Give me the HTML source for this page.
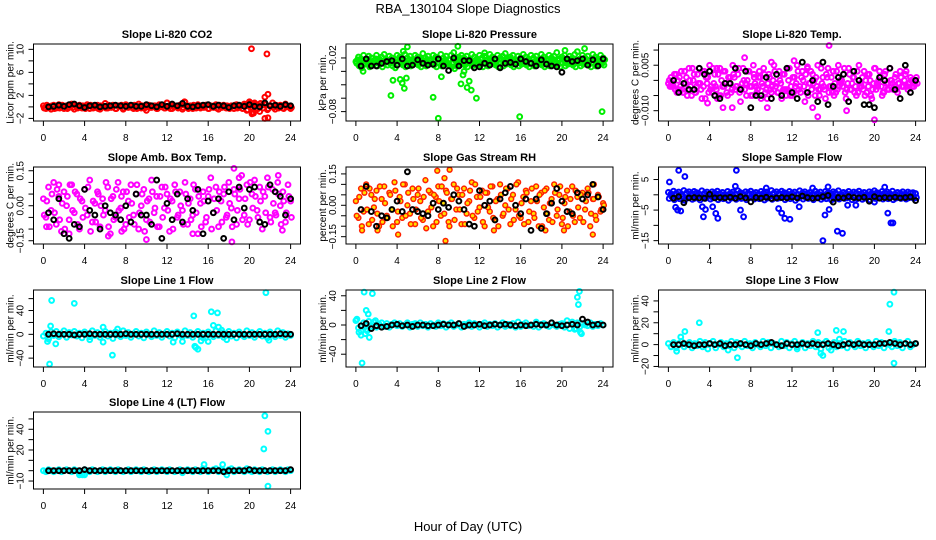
<!DOCTYPE html>
<html><head><meta charset="utf-8"><style>
html,body{margin:0;padding:0;background:#fff;}
svg{display:block;font-family:"Liberation Sans",Arial,sans-serif;}
</style></head><body>
<svg id="fig" width="936" height="540" viewBox="0 0 936 540" xmlns="http://www.w3.org/2000/svg">
<rect x="0" y="0" width="936" height="540" fill="#fff"/>
<text x="468" y="13" font-size="13" text-anchor="middle">RBA_130104  Slope Diagnostics</text>
<text x="468" y="531" font-size="13" text-anchor="middle">Hour of Day (UTC)</text>
</svg>
<script>
// ---- data ----
const hourTicks = [0,4,8,12,16,20,24];

const co2Red = [0.2,-0.3,0.1,-0.4,0.3,-0.2,0.4,0,-0.3,0.2,-0.1,0.5,-0.4,0.1,0.3,-0.2,0,0.4,-0.3,0.2,-0.1,0.3,-0.4,0.1,0.6,-0.2,0,0.3,-0.3,0.2,0.1,-0.4,0.4,-0.1,0.2,-0.3,0,0.5,-0.2,0.1,-0.6,0.3,-0.1,0.2,-0.3,0.4,0,-0.2,0.7,0.1,-0.3,0.2,0,0.3,-0.4,0.8,-0.1,0.2,-0.3,0.1,0.4,-0.2,0,0.3,-0.3,0.2,-0.1,0.4,-0.4,0.1,0.3,-0.2,0,0.2,-0.3,0.4,-0.1,0.2,0.5,-0.6,0.9,-1.2,0.7,0.4,-0.8,0.3,0.6,-0.5,0.2,0.7,-0.4,0.1,0.3,-0.2,0.5,0,-0.3];
const co2RedB = [-0.2,0.3,-0.1,0.2,-0.3,0.1,-0.2,0.3,0.1,-0.3,0.2,-0.1,0.3,-0.2,0,0.2,-0.3,0.1,0.3,-0.2,0.1,-0.3,0.2,0,-0.2,0.3,-0.1,0.2,-0.3,0.1,0.3,-0.2,0,0.2,-0.1,0.3,-0.3,0.1,0.2,-0.2,0.3,-0.1,0,0.2,-0.3,0.1,0.3,-0.2,0.1,-0.3,0.2,0,-0.2,0.3,-0.1,0.2,-0.3,0.1,0.3,-0.2,0,0.2,-0.1,0.3,-0.3,0.1,0.2,-0.2,0.3,-0.1,0,0.2,-0.3,0.1,0.3,-0.2,0.1,-0.3,0.4,-0.5,0.6,-0.4,0.5,-0.3,0.6,-0.2,0.4,-0.3,0.2,-0.1,0.3,-0.2,0.1,-0.3,0.2,0,-0.1];
const co2RedOutHours = [20.2,21.7,21.8,21.5,21.5,21.8,20.4,20,13.7,12,20.3];
const co2RedOutVals = [10.1,9.2,2.2,1.7,-2,-1.9,-1.1,0.8,0.9,0.7,-0.9];
const co2Black = [0,0.1,0.3,0.1,0.4,0.5,0.2,-0.1,0.2,0.3,0,0.1,0.2,0.3,0.2,0.1,0.3,0.1,0.1,0.4,0.2,0,0.4,0.1,0.5,0.2,0.6,0.1,0,0.2,0.3,0.4,0.1,0.3,0.2,-0.1,0.2,0.3,0.1,0.4,0.1,0,0.7,0.2,0.3,0.1,0.4,0.2];

const presA = [-0.024,-0.019,-0.021,-0.017,-0.022,-0.018,-0.02,-0.023,-0.017,-0.021,-0.019,-0.016,-0.022,-0.018,-0.02,-0.024,-0.017,-0.019,-0.021,-0.016,-0.02,-0.018,-0.022,-0.017,-0.019,-0.021,-0.015,-0.02,-0.018,-0.023,-0.017,-0.019,-0.021,-0.016,-0.02,-0.018,-0.022,-0.017,-0.014,-0.021,-0.019,-0.017,-0.02,-0.018,-0.022,-0.016,-0.019,-0.021,-0.017,-0.02,-0.018,-0.022,-0.016,-0.019,-0.021,-0.017,-0.02,-0.018,-0.015,-0.021,-0.019,-0.017,-0.022,-0.018,-0.02,-0.016,-0.019,-0.021,-0.017,-0.02,-0.018,-0.022,-0.016,-0.019,-0.021,-0.017,-0.02,-0.018,-0.014,-0.021,-0.019,-0.017,-0.022,-0.018,-0.02,-0.016,-0.013,-0.021,-0.017,-0.02,-0.018,-0.022,-0.016,-0.019,-0.021,-0.017,-0.02];
const presB = [-0.026,-0.029,-0.031,-0.027,-0.025,-0.03,-0.028,-0.026,-0.029,-0.027,-0.03,-0.025,-0.028,-0.026,-0.029,-0.031,-0.027,-0.025,-0.028,-0.03,-0.026,-0.029,-0.027,-0.025,-0.028,-0.03,-0.026,-0.029,-0.027,-0.025,-0.028,-0.03,-0.026,-0.029,-0.027,-0.025,-0.028,-0.03,-0.032,-0.029,-0.027,-0.025,-0.028,-0.03,-0.026,-0.029,-0.027,-0.025,-0.028,-0.03,-0.026,-0.029,-0.027,-0.025,-0.028,-0.03,-0.026,-0.029,-0.027,-0.025,-0.028,-0.03,-0.026,-0.029,-0.027,-0.025,-0.028,-0.03,-0.026,-0.029,-0.027,-0.025,-0.028,-0.03,-0.026,-0.029,-0.027,-0.025,-0.028,-0.03,-0.026,-0.029,-0.027,-0.025,-0.028,-0.03,-0.026,-0.029,-0.027,-0.025,-0.028,-0.03,-0.026,-0.029,-0.027,-0.025,-0.028];
const presC = [-0.022,-0.025,-0.023,-0.026,-0.022,-0.024,-0.025,-0.021,-0.024,-0.023,-0.026,-0.022,-0.024,-0.023,-0.025,-0.022,-0.024,-0.026,-0.023,-0.025,-0.022,-0.024,-0.023,-0.026,-0.022,-0.025,-0.023,-0.024,-0.022,-0.026,-0.023,-0.025,-0.022,-0.024,-0.023,-0.026,-0.022,-0.025,-0.023,-0.024,-0.022,-0.026,-0.023,-0.025,-0.022,-0.024,-0.023,-0.026,-0.022,-0.025,-0.023,-0.024,-0.022,-0.026,-0.023,-0.025,-0.022,-0.024,-0.023,-0.026,-0.022,-0.025,-0.023,-0.024,-0.022,-0.026,-0.023,-0.025,-0.022,-0.024,-0.023,-0.026,-0.022,-0.025,-0.023,-0.024,-0.022,-0.026,-0.023,-0.025,-0.022,-0.024,-0.023,-0.026,-0.022,-0.025,-0.023,-0.024,-0.022,-0.026,-0.023,-0.025,-0.022,-0.024,-0.023,-0.026,-0.022];
const presOutHours = [3.4,3.6,4.3,4.5,4.7,4.9,7.5,8,8.3,10.2,10.4,10.8,11,11.2,11.7,15.9,23.9,5,9.9,20.3,22.2,4.6,0.7,10.5,12.5];
const presOutVals = [-0.062,-0.045,-0.044,-0.048,-0.054,-0.0425,-0.064,-0.0875,-0.041,-0.049,-0.039,-0.053,-0.046,-0.056,-0.065,-0.0857,-0.08,-0.0076,-0.007,-0.0115,-0.0095,-0.0126,-0.035,-0.035,-0.0144];
const presBlack = [-0.029,-0.021,-0.029,-0.029,-0.026,-0.024,-0.023,-0.028,-0.021,-0.029,-0.028,-0.022,-0.026,-0.028,-0.027,-0.021,-0.029,-0.034,-0.02,-0.029,-0.023,-0.023,-0.031,-0.03,-0.026,-0.028,-0.021,-0.031,-0.026,-0.025,-0.027,-0.021,-0.024,-0.026,-0.029,-0.022,-0.027,-0.029,-0.03,-0.036,-0.021,-0.024,-0.023,-0.021,-0.028,-0.022,-0.029,-0.021];

const tempA = [-0.001,0.001,-0.002,0.002,-0.003,0.003,-0.004,0.001,0.004,-0.005,0.002,-0.002,0.004,-0.006,0.003,-0.001,0.005,-0.004,0.002,-0.006,0.004,-0.002,0.003,-0.005,0.001,0.005,-0.003,0.002,-0.007,0.004,-0.001,0.003,-0.005,0.005,-0.002,0.001,-0.006,0.004,-0.003,0.002,-0.004,0.005,-0.001,0.003,-0.006,0.002,-0.003,0.004,-0.005,0.001,0.005,-0.002,0.003,-0.007,0.004,-0.001,0.002,-0.005,0.005,-0.003,0.001,-0.006,0.004,-0.002,0.003,-0.004,0.005,-0.001,0.002,-0.006,0.004,-0.003,0.001,-0.005,0.005,-0.002,0.003,-0.004,0.002,-0.006,0.004,-0.001,0.003,-0.005,0.002,-0.003,0.004,-0.001,0.001,-0.004,0.003,-0.002,0.002,-0.003,0.001,-0.001,0.0];
const tempB = [0.0,-0.002,0.002,-0.004,0.001,-0.003,0.003,-0.005,0.0,0.004,-0.004,0.002,-0.001,0.003,-0.006,0.001,-0.003,0.004,-0.002,0.002,-0.005,0.003,-0.001,0.001,-0.004,0.002,-0.002,0.004,-0.003,0.0,-0.005,0.003,-0.002,0.001,-0.004,0.003,-0.001,0.002,-0.006,0.001,-0.002,0.003,-0.004,0.0,0.002,-0.003,0.004,-0.005,0.001,-0.002,0.003,-0.004,0.0,0.002,-0.005,0.003,-0.001,0.001,-0.003,0.004,-0.002,0.002,-0.004,0.001,-0.005,0.003,-0.002,0.0,0.004,-0.003,0.002,-0.001,-0.004,0.003,-0.002,0.001,-0.005,0.002,0.0,-0.003,0.004,-0.002,0.001,-0.004,0.003,-0.001,0.0,-0.003,0.002,-0.001,0.001,-0.002,0.003,-0.001,0.0,-0.002,0.001];
const tempC = [-0.002,-0.001,-0.003,0.0,-0.002,-0.004,-0.001,-0.003,-0.002,0.0,-0.004,-0.001,-0.003,-0.002,0.001,-0.004,-0.002,-0.001,-0.003,-0.005,0.0,-0.002,-0.004,-0.001,-0.003,0.001,-0.002,-0.004,-0.001,-0.003,0.0,-0.002,-0.005,-0.001,-0.003,0.001,-0.002,-0.004,-0.001,-0.003,0.0,-0.002,-0.004,-0.001,-0.003,-0.005,0.0,-0.002,-0.004,-0.001,-0.003,0.001,-0.002,-0.004,-0.001,-0.003,0.0,-0.002,-0.005,-0.001,-0.003,0.001,-0.002,-0.004,-0.001,-0.003,0.0,-0.002,-0.004,-0.001,-0.003,0.001,-0.002,-0.004,-0.001,-0.003,0.0,-0.002,-0.005,-0.001,-0.003,0.0,-0.002,-0.004,-0.001,-0.003,0.0,-0.002,-0.003,-0.001,-0.002,0.0,-0.002,-0.001,-0.002,-0.001,-0.001];
const tempOutHours = [15.6,7.4,10,12.2,21.5,14.5,20,5.3,6.2,9.6,17.3,14,3.8,4.7,8.3,13.5];
const tempOutVals = [0.0115,0.0075,0.006,0.0065,0.004,-0.012,-0.013,-0.009,-0.009,-0.009,-0.01,-0.009,-0.0075,0.004,0.002,0.0045];
const tempBlack = [0.0,-0.004,-0.001,-0.003,-0.003,0.004,0.002,0.003,-0.005,-0.006,-0.001,-0.001,0.004,-0.003,0.003,-0.009,-0.005,-0.005,0.001,-0.006,0.002,-0.005,0.004,-0.004,-0.006,0.006,-0.004,0.0,-0.007,0.006,-0.008,-0.002,0.001,0.002,-0.007,0.003,0.0,-0.008,-0.008,-0.009,0.001,0.0,0.004,-0.003,-0.006,0.005,-0.004,0.0];

const ambA = [0.03,-0.05,0.08,-0.02,0.1,-0.08,0.04,-0.11,0.06,0.0,-0.06,0.09,-0.03,0.05,-0.1,0.02,0.07,-0.04,0.11,-0.07,0.01,0.06,-0.09,0.03,-0.02,0.08,-0.12,0.04,-0.05,0.1,-0.01,0.06,-0.08,0.02,0.09,-0.04,0.05,-0.1,0.0,0.07,-0.06,0.03,0.11,-0.03,0.04,-0.09,0.08,-0.01,0.05,-0.11,0.02,0.09,-0.05,0.06,-0.02,0.1,-0.08,0.03,-0.04,0.07,-0.12,0.01,0.06,-0.07,0.04,0.12,-0.03,0.08,-0.09,0.02,0.05,-0.05,0.1,-0.01,0.07,-0.08,0.03,0.13,-0.04,0.09,-0.06,0.05,0.11,-0.02,0.08,-0.1,0.04,0.12,-0.05,0.07,-0.03,0.1,0.0,0.06,-0.07,0.09,0.02];
const ambB = [-0.04,0.02,-0.09,0.05,-0.03,0.07,-0.06,0.01,-0.1,0.04,0.09,-0.02,0.06,-0.08,0.03,-0.05,-0.01,0.08,-0.11,0.02,-0.07,0.05,0.0,-0.04,0.1,-0.09,0.03,-0.06,0.07,-0.02,0.04,-0.1,0.06,-0.05,0.01,-0.08,0.09,-0.03,0.05,-0.11,0.02,-0.07,0.06,-0.01,-0.09,0.04,-0.05,0.08,-0.02,0.03,-0.1,0.06,-0.04,0.0,-0.08,0.05,0.01,-0.06,0.09,-0.03,0.04,-0.09,0.02,-0.05,0.07,-0.1,0.03,-0.02,0.06,-0.07,0.08,-0.04,0.01,-0.09,0.05,-0.02,0.07,-0.06,0.03,-0.08,0.1,-0.01,0.04,-0.05,0.02,0.06,-0.03,0.08,-0.07,0.01,-0.04,0.05,-0.08,0.02,-0.03,0.04,-0.05];
const ambOutHours = [18.5,18.3,10,19,22.8,23.2,2.5,1.5,6.3,14.5,0.3,7.6];
const ambOutVals = [0.16,-0.155,-0.145,0.12,0.13,-0.105,-0.12,0.09,-0.13,-0.12,-0.09,-0.11];
const ambBlack = [-0.03,-0.06,0.03,-0.12,-0.14,-0.08,-0.09,0.07,-0.02,-0.04,-0.1,0.0,-0.03,-0.04,-0.06,0.0,-0.07,0.05,-0.04,-0.04,-0.08,0.11,-0.14,0.01,-0.06,0.05,-0.07,0.03,-0.02,0.07,-0.12,0.02,-0.03,0.03,-0.14,0.06,-0.06,0.08,-0.01,0.07,0.08,-0.07,-0.08,0.09,0.06,0.04,-0.04,0.03];

const rhA = [0.02,-0.06,0.08,-0.03,0.1,-0.09,0.05,-0.01,0.07,-0.1,0.03,0.09,-0.05,0.06,-0.02,0.11,-0.08,0.04,-0.06,0.1,0.0,-0.04,0.08,-0.09,0.05,0.02,-0.07,0.12,-0.03,0.06,-0.1,0.04,0.09,-0.05,0.01,0.07,-0.08,0.03,0.1,-0.02,0.05,-0.09,0.08,-0.04,0.02,0.11,-0.06,0.04,-0.01,0.07,-0.1,0.06,-0.03,0.09,-0.07,0.03,0.1,-0.05,0.0,0.08,-0.09,0.05,-0.02,0.11,-0.06,0.04,0.07,-0.08,0.02,-0.04,0.09,-0.1,0.06,-0.01,0.08,-0.07,0.03,0.1,-0.05,0.05,-0.09,0.01,0.07,-0.03,0.09,-0.08,0.04,-0.06,0.06,-0.02,0.08,-0.1,0.03,-0.05,0.05,-0.03,0.01];
const rhB = [-0.05,0.04,-0.1,0.06,-0.02,0.08,-0.07,0.03,-0.04,0.09,-0.08,0.01,-0.06,0.05,-0.1,0.07,-0.03,0.02,0.1,-0.05,0.06,-0.09,0.03,-0.02,0.08,-0.06,0.04,-0.11,0.07,-0.01,0.05,-0.08,0.02,0.09,-0.04,0.06,-0.1,0.03,-0.07,0.08,-0.02,0.05,-0.09,0.01,0.07,-0.05,0.1,-0.03,0.04,-0.08,0.06,-0.01,0.09,-0.06,0.02,-0.1,0.05,-0.04,0.08,-0.02,0.03,-0.07,0.1,-0.05,0.01,-0.09,0.06,-0.03,0.08,-0.06,0.02,0.05,-0.1,0.07,-0.04,0.01,-0.08,0.06,-0.02,0.09,-0.06,0.04,-0.1,0.03,-0.05,0.07,-0.01,0.05,-0.08,0.02,0.06,-0.04,0.03,-0.07,0.04,-0.02,0.0];
const rhOutHours = [8.7,9.1,7.9,4.1,13.4,18.4,20.2,23,8.6,23.1,2.1,0.6];
const rhOutVals = [-0.17,0.17,0.165,-0.14,-0.12,-0.12,-0.12,-0.14,0.13,0.1,-0.12,-0.12];
const rhBlack = [-0.02,0.09,-0.03,-0.1,-0.05,-0.06,-0.02,0.02,-0.03,0.16,-0.02,-0.03,-0.04,-0.05,0.01,-0.02,0.01,-0.01,0.05,0.02,-0.02,-0.09,-0.1,0.07,0.0,0.02,-0.07,0.03,0.06,0.09,0.0,-0.04,0.03,-0.12,0.03,-0.11,-0.04,0.01,0.08,0.02,-0.03,-0.04,0.06,0.03,0.05,0.1,0.04,-0.02];

const flowA = [0.8,0.3,1.2,0.5,0.9,0.2,1.4,0.6,1.0,0.4,1.1,0.7,0.2,1.3,0.5,0.9,0.3,1.0,0.6,1.2,0.4,0.8,0.1,1.1,0.5,0.9,0.3,1.3,0.7,0.2,1.0,0.6,1.2,0.4,0.8,0.3,1.1,0.5,0.9,0.2,1.4,0.6,1.0,0.4,1.2,0.7,0.3,1.1,0.5,0.9,0.2,1.3,0.6,1.0,0.4,0.8,0.3,1.2,0.5,0.9,0.1,1.1,0.7,0.4,1.0,0.6,1.3,0.2,0.8,0.5,1.1,0.3,0.9,0.6,1.2,0.4,0.8,0.2,1.0,0.5,1.3,0.7,0.3,1.1,0.6,0.9,0.4,1.2,0.2,0.8,0.5,1.0,0.3,0.9,0.6,0.7,0.4];
const flowB = [-1.2,-0.6,-1.6,-0.9,-1.3,-0.5,-1.8,-1.0,-0.7,-1.5,-1.1,-0.4,-1.7,-0.8,-1.2,-0.6,-1.4,-1.0,-0.5,-1.6,-0.9,-1.3,-0.7,-1.8,-1.1,-0.6,-1.5,-0.8,-1.2,-0.4,-1.6,-1.0,-0.7,-1.4,-0.9,-1.3,-0.5,-1.7,-1.1,-0.6,-1.5,-0.8,-1.2,-1.0,-0.4,-1.6,-0.9,-1.3,-0.7,-1.8,-1.1,-0.6,-1.4,-0.8,-1.2,-0.5,-1.6,-1.0,-0.7,-1.5,-0.9,-1.3,-0.6,-1.7,-1.1,-0.8,-1.4,-0.5,-1.2,-1.0,-0.7,-1.6,-0.9,-1.3,-0.6,-1.5,-1.1,-0.8,-1.7,-0.5,-1.2,-1.0,-0.7,-1.4,-0.9,-1.3,-0.6,-1.6,-1.1,-0.8,-1.2,-0.5,-1.4,-1.0,-0.7,-1.2,-0.9];
const flowOutHours = [0.1,1,1.6,6.6,0.9,1.2,0.7,3.4,3.6,4.6,4.8,4.3,7.3,7,10.7,11,11.3,11.8,15,15.2,15.6,16.4,16.9,21.3,21.6,21.8,6.5,9.5,15.5,14,21,12.7,18.2,17.4,20,3.3];
const flowOutVals = [4.2,8,6,8,-5,-5.3,-4.1,-7.2,-4.8,-6.1,-7.7,-3.9,-7.2,-5,-4.5,-6,-7.7,-8,-15,-6.6,-4.8,-11.9,-12.6,-6,-9.2,-9.2,2.8,2.2,2.6,2.2,2.5,-3.9,-3.4,-3.4,-2.4,-3.9];
const flowBlack = [-1.1,-0.6,-2.6,-1.0,-0.9,-1.0,-1.1,0.2,-1.0,-0.9,-1.0,-0.8,-1.1,-0.6,-1.0,-2.3,-0.9,-1.1,-0.8,-1.2,-1.0,-0.9,-1.0,-0.7,-1.0,-0.4,-0.9,-1.1,-1.0,-0.6,-0.2,-2.4,-0.9,-1.0,-0.6,-0.9,-1.0,-0.8,-2.1,-0.6,-1.1,-0.9,-1.0,-0.8,-1.0,-0.9,-0.7,-1.9];

const line1Cyan = [-3,2,-6,4,-2,5,-4,1,6,-5,3,-1,5,-3,2,-6,4,0,-4,6,-2,3,-5,1,5,-3,2,-7,4,-1,-4,6,-2,3,-5,1,5,-3,2,-6,4,0,-4,6,-2,3,-5,1,5,-3,2,-6,4,-1,-4,6,-2,3,-5,1,5,-3,2,-6,4,0,-4,6,-2,3,-5,1,5,-3,2,-6,4,-1,-4,6,-2,3,-5,1,5,-3,2,-6,4,0,-4,6,-2,3,-5,1,-2];
const line1OutHours = [0.6,0.8,0.7,1.2,0.4,0.5,3,6.7,5.8,5.8,14.6,14.7,14.8,15,15.3,15.5,16.3,16.5,16.9,17,17.3,16,21.6,21.9,12.6,13.5,4.5,7.2,17.8];
const line1OutVals = [-50,57,14,-16,-12,-8,52,-35,-13,12,31,-20,-22,-25,-11,-6,38,15,36,12,7,-12,70,-10,-13,-12,-9,9,-9];
const line1Black = [0,1,0,0,0,-1,0,0,1,0,0,0,0,0,0,1,0,0,0,0,0,0,0,0,0,1,0,0,0,0,0,0,0,0,0,0,0,0,0,0,0,0,0,0,0,1,0,0];

const line2Cyan = [6,-4,-8,3,-6,5,-2,4,-3,1,3,-2,2,-3,1,3,-1,2,-2,0,3,-3,1,2,-2,3,-1,1,-3,2,0,-2,3,-1,2,-3,1,3,-2,0,2,-3,1,-1,3,-2,2,0,-3,1,3,-2,1,-1,2,-3,0,3,-2,1,-1,2,-3,4,-2,1,3,-1,0,-2,3,-3,1,2,-1,-2,3,0,-2,1,2,-3,6,-5,4,-6,3,-2,2,0,-1,3,-2,1,-1,2,0];
const line2OutHours = [0.1,0.3,0.5,0.6,0.8,1,1.2,1.3,1.6,0.9,1.1,1.9,21.5,21.7,21.6,21.8,21.9,21.4,17.5];
const line2OutVals = [8,-10,-14,-52,45,20,15,-17,43,-12,-8,6,38,46,28,-10,-12,-5,4];
const line2Black = [-1,2,-5,-1,-3,-2,0,1,-1,0,-2,0,0,-1,-1,0,1,0,0,2,-2,0,0,1,-1,0,1,0,1,0,-1,0,-1,0,1,0,0,3,0,-1,0,1,0,8,4,0,1,0];

const line3Cyan = [1,-2,2,-3,1,3,-2,0,2,-3,1,-1,3,-2,2,-4,1,3,-3,0,2,-2,1,-1,3,-3,2,0,-2,3,-1,1,-3,2,0,-2,3,-1,2,-3,1,0,-2,3,-1,2,-3,1,3,-2,0,2,-3,1,-1,3,-2,2,-4,1,3,-3,0,2,-2,1,-1,3,-3,2,0,-2,3,-1,1,-3,2,0,-2,3,-1,2,-3,1,0,-2,3,-1,2,-3,1,3,-2,0,1];
const line3OutHours = [0.8,1.2,1.6,3,6.7,14.5,14.8,15,16.3,17,16.6,21.5,21.9,21.4,21.9,12.5,5.8,15.8];
const line3OutVals = [-6,7,12,20,-12,11,-8,-10,13,12,5,37,48,12,-17,-4,-5,-5];
const line3Black = [0,0,1,0,-1,0,0,1,0,1,-1,0,0,1,0,-1,1,0,1,2,0,-1,1,0,0,1,0,1,0,0,1,0,-1,0,1,0,1,0,0,0,1,1,2,1,0,1,0,1];

const line4Cyan = [0,-1,1,0,-1,0,1,-1,0,1,0,-1,1,0,-2,-3,1,0,-1,1,0,-1,0,1,-1,0,1,0,-1,1,0,-1,0,1,-1,0,1,0,-1,1,0,-1,0,1,-1,0,1,0,-1,1,0,-1,0,1,-2,0,1,0,-1,1,0,-1,2,1,-1,0,1,2,-1,1,0,-1,1,2,-1,0,1,0,-1,2,0,-1,1,0,-1,1,0,-1,0,1,-1,0,1,0,-1,1,0];
const line4OutHours = [21.5,21.8,21.4,21.8,3.5,3.8,4,15.6,17.4,17.8];
const line4OutVals = [53,38,21,-15,-4,-4,-4,6,6,-4];
const line4Black = [0,0,0,0,0,0,0,1,0,0,0,0,0,0,0,0,0,0,0,0,0,0,0,0,0,0,0,0,0,0,0,0,0,0,-1,0,0,0,0,1,0,0,0,0,0,0,0,1];

// ---- layout ----
const NS = "http://www.w3.org/2000/svg";
const svg = document.getElementById('fig');
const PW = 267, PH = 77;
const colLeft = [33.5, 346, 658.5];
const rowTop = [44, 167, 290, 412];

function mk(tag, attrs, parent) {
  const e = document.createElementNS(NS, tag);
  for (const k in attrs) e.setAttribute(k, attrs[k]);
  (parent || svg).appendChild(e);
  return e;
}

const panels = [
  {key:'co2', r:0, c:0, title:'Slope Li-820 CO2', ytitle:'Licor ppm per min.', ymin:-2.45, ymax:10.93, ticks:[-2,0,2,4,6,8,10], labels:['-2','','2','','6','','10'], col:'#ff0000', fill:'none', clouds:[co2Red,co2RedB], outH:co2RedOutHours, outV:co2RedOutVals, black:co2Black},
  {key:'pressure', r:0, c:1, title:'Slope Li-820 Pressure', ytitle:'kPa per min.', ymin:-0.0905, ymax:-0.0044, ticks:[-0.02,-0.035,-0.05,-0.065,-0.08], labels:['-0.02','','','','-0.08'], col:'#00ee00', fill:'none', clouds:[presA,presB,presC], outH:presOutHours, outV:presOutVals, black:presBlack},
  {key:'temp', r:0, c:2, title:'Slope Li-820 Temp.', ytitle:'degrees C per min.', ymin:-0.0134, ymax:0.012, ticks:[-0.01,-0.005,0,0.005,0.01], labels:['-0.010','','','0.005',''], col:'#ff00ff', fill:'none', clouds:[tempA,tempB,tempC], outH:tempOutHours, outV:tempOutVals, black:tempBlack},
  {key:'ambbox', r:1, c:0, title:'Slope Amb. Box Temp.', ytitle:'degrees C per min.', ymin:-0.164, ymax:0.166, ticks:[-0.15,-0.1,-0.05,0,0.05,0.1,0.15], labels:['-0.15','','','0.00','','','0.15'], col:'#ff00ff', fill:'none', clouds:[ambA,ambB], outH:ambOutHours, outV:ambOutVals, black:ambBlack},
  {key:'rh', r:1, c:1, title:'Slope Gas Stream RH', ytitle:'percent per min.', ymin:-0.185, ymax:0.183, ticks:[-0.15,-0.1,-0.05,0,0.05,0.1,0.15], labels:['-0.15','','','0.00','','','0.15'], col:'#ff2000', fill:'#ffe000', clouds:[rhA,rhB], outH:rhOutHours, outV:rhOutVals, black:rhBlack},
  {key:'sampleflow', r:1, c:2, title:'Slope Sample Flow', ytitle:'ml/min per min.', ymin:-16.1, ymax:9.1, ticks:[-15,-10,-5,0,5], labels:['-15','','-5','','5'], col:'#0000ff', fill:'none', clouds:[flowA,flowB], outH:flowOutHours, outV:flowOutVals, black:flowBlack},
  {key:'line1', r:2, c:0, title:'Slope Line 1 Flow', ytitle:'ml/min per min.', ymin:-54.9, ymax:74.5, ticks:[-40,-20,0,20,40,60], labels:['-40','','0','','40',''], col:'#00ffff', fill:'none', clouds:[line1Cyan], outH:line1OutHours, outV:line1OutVals, black:line1Black},
  {key:'line2', r:2, c:1, title:'Slope Line 2 Flow', ytitle:'ml/min per min.', ymin:-57.5, ymax:47.9, ticks:[-40,-20,0,20,40], labels:['-40','','0','','40'], col:'#00ffff', fill:'none', clouds:[line2Cyan], outH:line2OutHours, outV:line2OutVals, black:line2Black},
  {key:'line3', r:2, c:2, title:'Slope Line 3 Flow', ytitle:'ml/min per min.', ymin:-20.5, ymax:50, ticks:[-20,-10,0,10,20,30,40], labels:['-20','','0','','20','','40'], col:'#00ffff', fill:'none', clouds:[line3Cyan], outH:line3OutHours, outV:line3OutVals, black:line3Black},
  {key:'line4', r:3, c:0, title:'Slope Line 4 (LT) Flow', ytitle:'ml/min per min.', ymin:-17.7, ymax:56.7, ticks:[-10,0,10,20,30,40,50], labels:['-10','','','20','','40',''], col:'#00ffff', fill:'none', clouds:[line4Cyan], outH:line4OutHours, outV:line4OutVals, black:line4Black}
];

panels.forEach(p => {
  const L = colLeft[p.c], T = rowTop[p.r], B = T + PH;
  const xs = h => L + PW * ((h + 0.96) / 25.92);
  const ys = v => B - PH * ((v - p.ymin) / (p.ymax - p.ymin));
  const sw = p.fill === 'none' ? 2 : 1.5;
  const g = mk('g', {});
  
  

  const t = mk('text', {x: L + PW/2, y: T - 6, 'font-size': 11, 'font-weight': 'bold', 'text-anchor': 'middle'}, g);
  t.textContent = p.title;
  
  

  hourTicks.forEach(h => {
    const x = xs(h);
    mk('line', {x1:x, y1:B, x2:x, y2:B+5, stroke:'#000', 'stroke-width':1}, g);
    const tl = mk('text', {x:x, y:B+20, 'font-size':10, 'text-anchor':'middle'}, g);
    tl.textContent = String(h);
    
    
  });
  p.ticks.forEach((v, i) => {
    const y = ys(v);
    mk('line', {x1:L, y1:y, x2:L-5, y2:y, stroke:'#000', 'stroke-width':1}, g);
    if (p.labels[i]) {
      const yl = mk('text', {x:L-10, y:y, 'font-size':10, 'text-anchor':'middle', transform:'rotate(-90 ' + (L-10) + ' ' + y + ')'}, g);
      yl.textContent = p.labels[i].replace('-', '\u2212');
      
      
    }
  });
  const yt = mk('text', {x:L-20, y:T+PH/2, 'font-size':10, 'text-anchor':'middle', transform:'rotate(-90 ' + (L-20) + ' ' + (T+PH/2) + ')'}, g);
  yt.textContent = p.ytitle;
  
  

  const cid = 'clip-' + p.key;
  const cp = mk('clipPath', {id: cid}, g);
  mk('rect', {x:L-3, y:T-3, width:PW+6, height:PH+6}, cp);
  const marks = mk('g', {'clip-path':'url(#' + cid + ')'}, g);

  p.clouds.forEach((arr, ci) => {
    const n = arr.length;
    arr.forEach((v, i) => {
      const h = i * 24 / (n - 1) + ci * 0.08;
      const c = mk('circle', {cx:xs(h), cy:ys(v), r:2.4, fill:p.fill, stroke:p.col, 'stroke-width':sw}, marks);
      
      
    });
  });
  p.outH.forEach((h, i) => {
    const c = mk('circle', {cx:xs(h), cy:ys(p.outV[i]), r:2.4, fill:p.fill, stroke:p.col, 'stroke-width':sw}, marks);
    
    
  });
  p.black.forEach((v, i) => {
    const h = 0.5 + i * 0.5;
    const c = mk('circle', {cx:xs(h), cy:ys(v), r:2.4, fill:'none', stroke:'#000', 'stroke-width':2}, marks);
    
    
  });

  const box = mk('rect', {x:L, y:T, width:PW, height:PH, fill:'none', stroke:'#000', 'stroke-width':1}, g);
  
  
});
</script>
</body></html>
